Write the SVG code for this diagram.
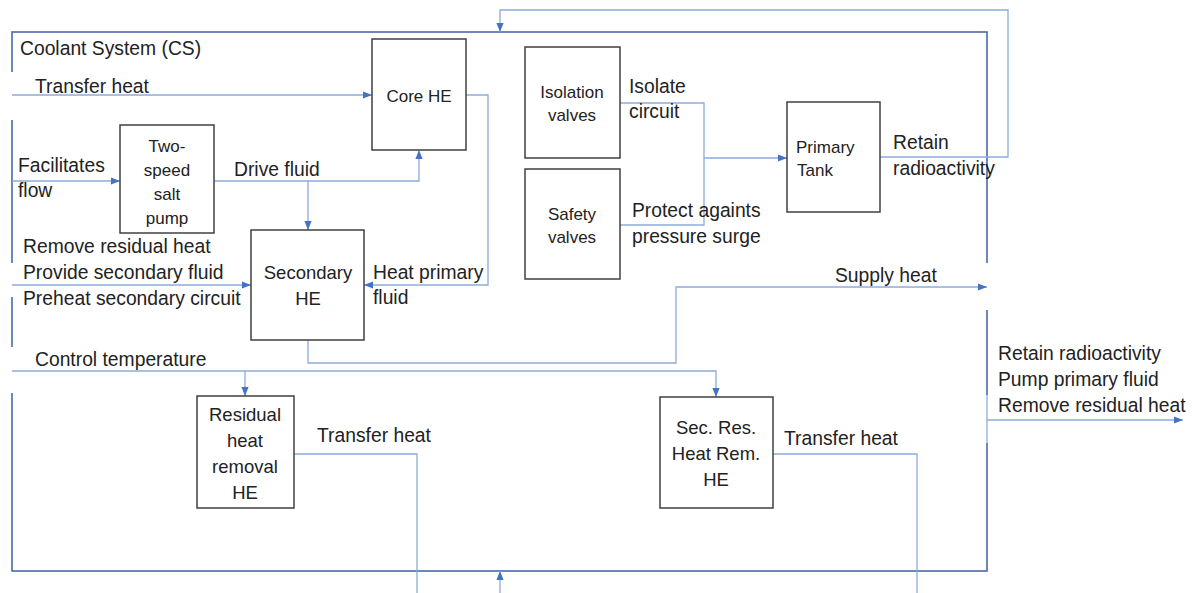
<svg xmlns="http://www.w3.org/2000/svg" width="1200" height="593" viewBox="0 0 1200 593">
<defs>
<marker id="ah" viewBox="0 0 10 10" refX="10" refY="5" markerWidth="9" markerHeight="9" markerUnits="userSpaceOnUse" orient="auto"><path d="M0,1 L10,5 L0,9 z" fill="#4472c4"/></marker>
<style>
.box{fill:#fff;stroke:#404040;stroke-width:1.5}
.t{font-family:"Liberation Sans",Arial,sans-serif;fill:#222}
.l{font-size:19.3px}
.s{font-size:17px}
.m{font-size:18.5px}
.c{text-anchor:middle}
.cn{fill:none;stroke:#8eaadb;stroke-width:1.3}
.mask{fill:#fff;stroke:none}
</style>
</defs>
<rect width="1200" height="593" fill="#fff"/>
<g id="cs">
<rect x="12" y="32" width="975" height="539" fill="none" stroke="#4a6aa8" stroke-width="1.6"/>
<rect class="mask" x="9" y="72" width="6" height="48"/>
<rect class="mask" x="9" y="263" width="6" height="34"/>
<rect class="mask" x="9" y="347" width="6" height="46"/>
<rect class="mask" x="985" y="263" width="5" height="47"/>
<rect class="mask" x="985" y="395" width="5" height="48"/>
<text class="t l" x="20" y="55">Coolant System (CS)</text>
</g>
<g id="connectors">
<path class="cn" d="M880,157 H1008 V10 H500 V32" marker-end="url(#ah)"/>
<path class="cn" d="M12,95 H372" marker-end="url(#ah)"/>
<path class="cn" d="M12,181 H120" marker-end="url(#ah)"/>
<path class="cn" d="M214,181 H419 V150" marker-end="url(#ah)"/>
<path class="cn" d="M308,181 V230" marker-end="url(#ah)"/>
<path class="cn" d="M466,95 H488 V285 H364" marker-end="url(#ah)"/>
<path class="cn" d="M12,285 H251" marker-end="url(#ah)"/>
<path class="cn" d="M308,340 V363 H676 V287 H987" marker-end="url(#ah)"/>
<path class="cn" d="M12,371 H716 V397" marker-end="url(#ah)"/>
<path class="cn" d="M245,371 V396" marker-end="url(#ah)"/>
<path class="cn" d="M294,454 H417 V593"/>
<path class="cn" d="M773,454 H917 V593"/>
<path class="cn" d="M500,593 V571" marker-end="url(#ah)"/>
<path class="cn" d="M620,103 H704 V158 H787" marker-end="url(#ah)"/>
<path class="cn" d="M620,225 H704 V158"/>
<path class="cn" d="M987,395 V443"/>
<path class="cn" d="M987,420 H1183" marker-end="url(#ah)"/>
</g>
<g id="labels">
<text class="t l" x="35" y="93">Transfer heat</text>
<text class="t l" x="18" y="172">Facilitates</text>
<text class="t l" x="18" y="197">flow</text>
<text class="t l" x="234" y="176">Drive fluid</text>
<text class="t l" x="23" y="253">Remove residual heat</text>
<text class="t l" x="23" y="279">Provide secondary fluid</text>
<text class="t l" x="23" y="305">Preheat secondary circuit</text>
<text class="t l" x="373" y="279">Heat primary</text>
<text class="t l" x="373" y="304">fluid</text>
<text class="t l" x="629" y="93">Isolate</text>
<text class="t l" x="629" y="118">circuit</text>
<text class="t l" x="632" y="217">Protect againts</text>
<text class="t l" x="632" y="243">pressure surge</text>
<text class="t l" x="893" y="149">Retain</text>
<text class="t l" x="893" y="175">radioactivity</text>
<text class="t l" x="835" y="282">Supply heat</text>
<text class="t l" x="35" y="366">Control temperature</text>
<text class="t l" x="998" y="360">Retain radioactivity</text>
<text class="t l" x="998" y="386">Pump primary fluid</text>
<text class="t l" x="998" y="412">Remove residual heat</text>
<text class="t l" x="317" y="442">Transfer heat</text>
<text class="t l" x="784" y="445">Transfer heat</text>
</g>
<g id="core-he">
<rect class="box" x="372" y="39" width="94" height="111"/>
<text class="t s c" x="419" y="102">Core HE</text>
</g>
<g id="pump">
<rect class="box" x="120" y="125" width="94" height="108"/>
<text class="t s c" x="167" y="152">Two-</text>
<text class="t s c" x="167" y="176">speed</text>
<text class="t s c" x="167" y="200">salt</text>
<text class="t s c" x="167" y="224">pump</text>
</g>
<g id="secondary-he">
<rect class="box" x="251" y="230" width="113" height="110"/>
<text class="t m c" x="308" y="279">Secondary</text>
<text class="t m c" x="308" y="305">HE</text>
</g>
<g id="isolation-valves">
<rect class="box" x="525" y="47" width="95" height="111"/>
<text class="t s c" x="572" y="98">Isolation</text>
<text class="t s c" x="572" y="121">valves</text>
</g>
<g id="safety-valves">
<rect class="box" x="525" y="169" width="95" height="110"/>
<text class="t s c" x="572" y="220">Safety</text>
<text class="t s c" x="572" y="243">valves</text>
</g>
<g id="primary-tank">
<rect class="box" x="787" y="102" width="93" height="110"/>
<text class="t s" x="796" y="153">Primary</text>
<text class="t s" x="797" y="176">Tank</text>
</g>
<g id="residual-he">
<rect class="box" x="197" y="396" width="97" height="112"/>
<text class="t m c" x="245" y="421">Residual</text>
<text class="t m c" x="245" y="447">heat</text>
<text class="t m c" x="245" y="473">removal</text>
<text class="t m c" x="245" y="499">HE</text>
</g>
<g id="sec-res-he">
<rect class="box" x="660" y="397" width="113" height="111"/>
<text class="t m c" x="716" y="434">Sec. Res.</text>
<text class="t m c" x="716" y="460">Heat Rem.</text>
<text class="t m c" x="716" y="486">HE</text>
</g>
</svg>
